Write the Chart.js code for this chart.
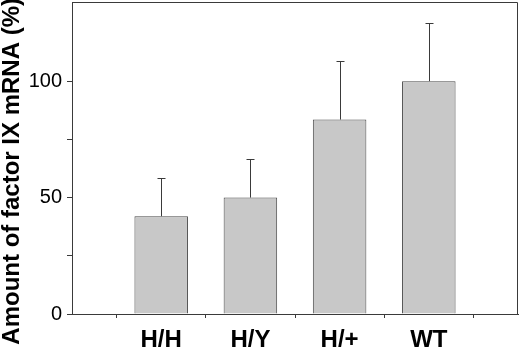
<!DOCTYPE html>
<html><head><meta charset="utf-8">
<script src="https://cdn.jsdelivr.net/npm/chart.js@4/dist/chart.umd.min.js"></script>
<style>html,body{margin:0;padding:0;background:#fff}canvas{display:block}</style>
</head><body>
<canvas id="c" width="520" height="349"></canvas>
<script>
const categories = ['H/H', 'H/Y', 'H/+', 'WT'];
const positions = [1, 2, 3, 4];
const meanValues = [42, 50, 83.5, 100];
const errorValues = [16.5, 16.5, 25, 25];
const yTickLabels = [0, 50, 100];
const yAxisTitle = 'Amount of factor IX mRNA (%)';

const FONT = '"Liberation Sans", Arial, sans-serif';
const LINE = '#3a3a3a';

const errorBarPlugin = {
  id: 'errorBars',
  afterDatasetsDraw(chart) {
    const ctx = chart.ctx;
    const meta = chart.getDatasetMeta(0);
    const ys = chart.scales.y;
    ctx.save();
    ctx.strokeStyle = LINE;
    ctx.lineWidth = 1;
    meta.data.forEach((el, i) => {
      const x = Math.round(el.x) + 0.5;
      const yTop = el.y;
      const yErr = Math.round(ys.getPixelForValue(meanValues[i] + errorValues[i])) + 0.5;
      ctx.beginPath();
      ctx.moveTo(x, yTop);
      ctx.lineTo(x, yErr);
      ctx.moveTo(x - 4, yErr);
      ctx.lineTo(x + 4, yErr);
      ctx.stroke();
    });
    ctx.restore();
  }
};

const framePlugin = {
  id: 'frame',
  afterDraw(chart) {
    const {ctx, chartArea: a} = chart;
    ctx.save();
    ctx.strokeStyle = LINE;
    ctx.lineWidth = 1;
    ctx.beginPath();
    ctx.moveTo(a.left, Math.round(a.top) + 0.5);
    ctx.lineTo(Math.round(a.right) - 0.5, Math.round(a.top) + 0.5);
    ctx.lineTo(Math.round(a.right) - 0.5, a.bottom);
    ctx.stroke();
    ctx.restore();
  }
};

function zeroPad(s) { s.paddingTop = 0; s.paddingBottom = 0; s.paddingLeft = 0; s.paddingRight = 0; }

new Chart(document.getElementById('c'), {
  type: 'bar',
  data: {
    datasets: [{
      data: positions.map((p, i) => ({x: p, y: meanValues[i]})),
      backgroundColor: '#c8c8c8',
      borderColor: '#4a4a4a',
      borderWidth: 1,
      barPercentage: 0.6,
      categoryPercentage: 1
    }]
  },
  options: {
    responsive: false,
    animation: false,
    layout: {padding: {top: 2, right: 2, left: 0, bottom: 0}},
    plugins: {legend: {display: false}, tooltip: {enabled: false}},
    scales: {
      x: {
        type: 'linear',
        offset: false,
        min: 0, max: 5,
        afterFit(s) { s.height = 35; zeroPad(s); },
        afterBuildTicks(s) { s.ticks = [0, 1, 2, 3, 4, 5].map(v => ({value: v})); },
        ticks: {
          stepSize: 1,
          autoSkip: false,
          maxRotation: 0,
          padding: 8,
          color: '#000',
          font: {family: FONT, size: 24, weight: 'bold'},
          callback: v => (positions.indexOf(v) >= 0 ? categories[positions.indexOf(v)] : '')
        },
        grid: {display: true, drawOnChartArea: false, drawTicks: true, tickLength: 4, color: LINE},
        border: {display: true, color: LINE, width: 1}
      },
      y: {
        min: 0, max: 134,
        afterFit(s) { s.width = 72; zeroPad(s); },
        afterBuildTicks(s) { s.ticks = s.ticks.filter(t => t.value % 25 === 0); },
        ticks: {
          stepSize: 25,
          padding: 5,
          color: '#000',
          font: {family: FONT, size: 20},
          callback: v => (yTickLabels.includes(v) ? String(v) : '')
        },
        grid: {display: true, drawOnChartArea: false, drawTicks: true, tickLength: 5, color: LINE},
        border: {display: true, color: LINE, width: 1},
        title: {
          display: true,
          text: yAxisTitle + '    ',
          color: '#000',
          padding: {top: 0, bottom: 0},
          font: {family: FONT, size: 24, weight: 'bold', lineHeight: 1}
        }
      }
    }
  },
  plugins: [errorBarPlugin, framePlugin]
});
</script>
</body></html>
